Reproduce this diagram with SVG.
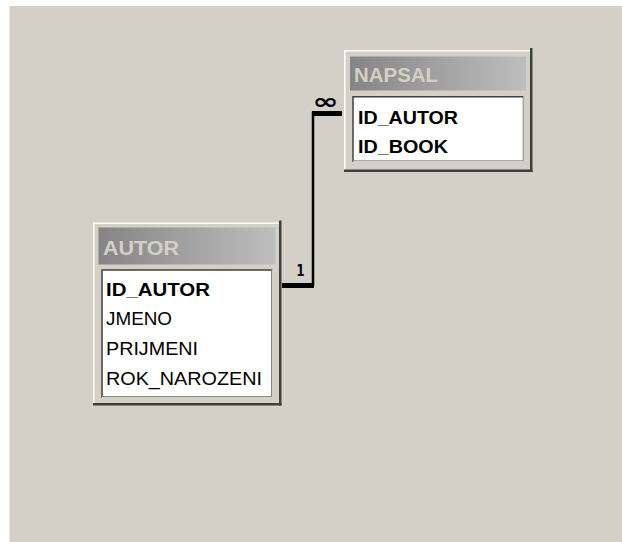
<svg xmlns="http://www.w3.org/2000/svg" width="622" height="542" viewBox="0 0 622 542">
<defs>
<linearGradient id="cap" x1="0" y1="0" x2="1" y2="0">
<stop offset="0" stop-color="#858585"/>
<stop offset="1" stop-color="#bebebe"/>
</linearGradient>
</defs>
<style>
.frame{fill:#d4d0c8}
.hi{stroke:#ffffff;stroke-width:1.5;fill:none}
.dk{fill:#404040}
.cap{fill:url(#cap)}
.title{font-family:"Liberation Sans",Arial,sans-serif;font-weight:bold;font-size:21px;fill:#d4d0c8}
.list{fill:#ffffff;stroke:#404040;stroke-width:1.5}
.lt{stroke:#d4d0c8;stroke-width:1.5;fill:none}
.f{font-family:"Liberation Sans",Arial,sans-serif;font-size:19px;fill:#000000}
.b{font-weight:bold}
.conn{stroke:#000000;fill:none;stroke-width:2.5}
.end{stroke:#000000;stroke-width:5;fill:none}
.lbl{font-family:"DejaVu Sans",sans-serif;font-weight:bold;fill:#000000}
</style>
<rect x="9.5" y="6" width="612.5" height="536" fill="#d4d0c8"/>

<g id="connectors">
<path class="conn" d="M282,285 H313 V113 H342"/>
<path class="end" d="M282,285.5 H314"/>
<path class="end" d="M312,113.5 H342"/>
<text class="lbl" x="296.5" y="276" font-size="15" textLength="8" lengthAdjust="spacingAndGlyphs">1</text>
<text class="lbl" x="312.5" y="108.5" font-size="22" textLength="26" lengthAdjust="spacingAndGlyphs">∞</text>
</g>

<g id="napsal" transform="translate(344,50)">
<rect class="frame" x="0" y="0" width="188" height="122"/>
<path class="hi" d="M0.75,121 V0.75 H186"/>
<rect class="dk" x="186" y="-2" width="2.5" height="124"/>
<rect class="dk" x="0" y="119.5" width="188.5" height="2.5"/>
<rect class="cap" x="6" y="6.5" width="176" height="34"/>
<text class="title" x="10" y="31.5" textLength="84" lengthAdjust="spacingAndGlyphs">NAPSAL</text>
<rect class="list" x="9" y="46.75" width="170.5" height="64.5"/>
<path class="lt" d="M9,111.5 H180 V46"/>
<text class="f b" x="14" y="73.5" textLength="100" lengthAdjust="spacingAndGlyphs">ID_AUTOR</text>
<text class="f b" x="14" y="102.5" textLength="90" lengthAdjust="spacingAndGlyphs">ID_BOOK</text>
</g>

<g id="autor" transform="translate(93,222.5)">
<rect class="frame" x="0" y="0" width="188" height="183"/>
<path class="hi" d="M0.75,182 V0.75 H186"/>
<rect class="dk" x="186" y="-2" width="2.5" height="185"/>
<rect class="dk" x="0" y="180.5" width="188.5" height="2.5"/>
<rect class="cap" x="5.5" y="5" width="177" height="37"/>
<text class="title" x="10" y="32" textLength="76" lengthAdjust="spacingAndGlyphs">AUTOR</text>
<rect class="list" x="9" y="47.5" width="170" height="127"/>
<path class="lt" d="M9,175 H179.5 V47"/>
<text class="f b" x="13" y="73.5" textLength="104" lengthAdjust="spacingAndGlyphs">ID_AUTOR</text>
<text class="f" x="13" y="102.5" textLength="66" lengthAdjust="spacingAndGlyphs">JMENO</text>
<text class="f" x="13" y="132" textLength="92" lengthAdjust="spacingAndGlyphs">PRIJMENI</text>
<text class="f" x="13" y="162" textLength="156" lengthAdjust="spacingAndGlyphs">ROK_NAROZENI</text>
</g>
</svg>
